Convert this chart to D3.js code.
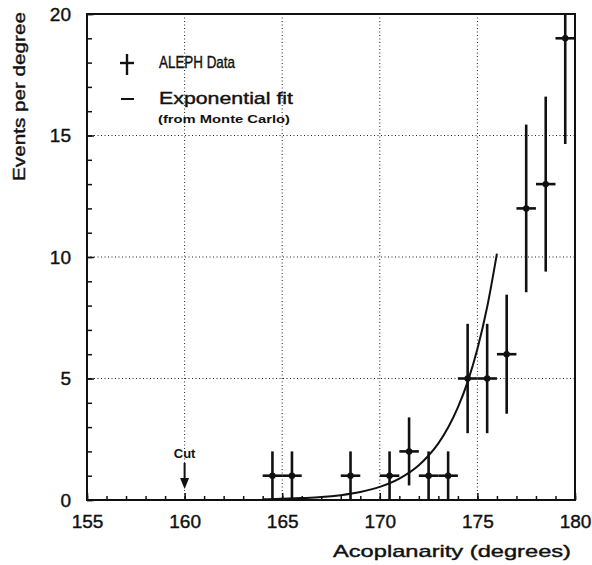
<!DOCTYPE html>
<html lang="en">
	<head>
		<meta charset="utf-8">
		<title>Acoplanarity</title>
		<script type="text/javascript" src="https://cdn.jsdelivr.net/npm/d3@7"></script>
		<style type="text/css">
			body { margin: 0; background: white; }
			text { font-family: "Liberation Sans", Arial, sans-serif; fill: #111; }
		</style>
	</head>
	<body>
	<script type="text/javascript">

			// data
			var binCenters = [164.5, 165.5, 168.5, 170.5, 171.5, 172.5, 173.5, 174.5, 175.5, 176.5, 177.5, 178.5, 179.5];
			var events = [1, 1, 1, 1, 2, 1, 1, 5, 5, 6, 12, 13, 19];
			var errors = [1, 1, 1, 1, 1.4, 1, 1, 2.25, 2.25, 2.45, 3.45, 3.6, 4.35];
			var binHalf = 0.5;

			// exponential fit curve (from Monte Carlo)
			var fitX = [164, 165, 166, 167, 168, 169, 170, 171, 172, 172.5, 173, 173.5, 174, 174.5, 175, 175.5, 176];
			var fitY = [0.03, 0.05, 0.08, 0.12, 0.2, 0.33, 0.54, 0.88, 1.43, 1.83, 2.33, 2.98, 3.81, 4.86, 6.21, 7.94, 10.14];

			var xTicks = [155, 160, 165, 170, 175, 180];
			var yTicks = [0, 5, 10, 15, 20];
			var xGrid = [160, 165, 170, 175];
			var yGrid = [5, 10, 15];
			var cutAt = 160;

			var w = 592, h = 565;
			// plot frame in pixels ("top" is taken by window.top, so use m*)
			var mLeft = 87, mRight = 575, mTop = 14, mBottom = 500;

			var svg = d3.select("body").append("svg").attr("width", w).attr("height", h);

			var x = d3.scaleLinear().domain([155, 180]).range([mLeft, mRight]);
			var y = d3.scaleLinear().domain([0, 20]).range([mBottom, mTop]);

			svg.append("clipPath").attr("id", "plot")
				.append("rect").attr("x", mLeft).attr("y", mTop).attr("width", mRight - mLeft).attr("height", mBottom - mTop);

			// dotted grid
			svg.selectAll(".gx").data(xGrid).enter().append("line")
				.attr("x1", d => x(d)).attr("x2", d => x(d))
				.attr("y1", mTop).attr("y2", mBottom)
				.attr("stroke", "#222").attr("stroke-width", 1).attr("stroke-dasharray", "1,2.5");
			svg.selectAll(".gy").data(yGrid).enter().append("line")
				.attr("x1", mLeft).attr("x2", mRight)
				.attr("y1", d => y(d)).attr("y2", d => y(d))
				.attr("stroke", "#222").attr("stroke-width", 1).attr("stroke-dasharray", "1,2.5");

			// minor ticks (inward)
			svg.append("g").attr("transform", "translate(0," + mBottom + ")")
				.call(d3.axisBottom(x).tickValues(d3.range(155, 181, 1)).tickSize(-4).tickFormat(""))
				.call(g => g.select(".domain").remove());
			svg.append("g").attr("transform", "translate(" + mLeft + ",0)")
				.call(d3.axisLeft(y).tickValues(d3.range(0, 21, 1)).tickSize(-5).tickFormat(""))
				.call(g => g.select(".domain").remove());

			// major ticks with labels
			var xAxis = svg.append("g").attr("transform", "translate(0," + mBottom + ")")
				.call(d3.axisBottom(x).tickValues(xTicks).tickSize(-7).tickPadding(15).tickFormat(d3.format("d")));
			xAxis.select(".domain").remove();
			xAxis.selectAll("text").attr("font-size", 19).attr("font-family", "Liberation Sans, Arial, sans-serif")
				.attr("fill", "#111").attr("stroke", "#111").attr("stroke-width", 0.4);

			var yAxis = svg.append("g").attr("transform", "translate(" + mLeft + ",0)")
				.call(d3.axisLeft(y).tickValues(yTicks).tickSize(-7).tickPadding(16).tickFormat(d3.format("d")));
			yAxis.select(".domain").remove();
			yAxis.selectAll("text").attr("font-size", 19).attr("font-family", "Liberation Sans, Arial, sans-serif")
				.attr("fill", "#111").attr("stroke", "#111").attr("stroke-width", 0.4);

			svg.selectAll(".tick line").attr("stroke", "#111").attr("stroke-width", 1.5);

			// frame
			svg.append("rect").attr("x", mLeft).attr("y", mTop).attr("width", mRight - mLeft).attr("height", mBottom - mTop)
				.attr("fill", "none").attr("stroke", "#111").attr("stroke-width", 2);

			// fit curve
			var fitData = fitX.map((v, i) => [v, fitY[i]]);
			svg.append("path")
				.datum(fitData)
				.attr("d", d3.line().x(d => x(d[0])).y(d => y(d[1])).curve(d3.curveMonotoneX))
				.attr("fill", "none").attr("stroke", "#111").attr("stroke-width", 2);

			// data points with error bars
			var pts = svg.append("g").attr("clip-path", "url(#plot)");
			binCenters.forEach(function (c, i) {
				var v = events[i], e = errors[i];
				pts.append("line")
					.attr("x1", x(c)).attr("x2", x(c))
					.attr("y1", y(v - e)).attr("y2", y(v + e))
					.attr("stroke", "#111").attr("stroke-width", 2.6);
				pts.append("line")
					.attr("x1", x(c - binHalf)).attr("x2", x(c + binHalf))
					.attr("y1", y(v)).attr("y2", y(v))
					.attr("stroke", "#111").attr("stroke-width", 2.6);
				pts.append("circle")
					.attr("cx", x(c)).attr("cy", y(v)).attr("r", 3.2).attr("fill", "#111");
			});

			// cut marker
			svg.append("text").attr("x", x(cutAt)).attr("y", 458).attr("text-anchor", "middle")
				.attr("font-size", 13).attr("font-weight", "bold").text("Cut");
			svg.append("line").attr("x1", x(cutAt)).attr("x2", x(cutAt)).attr("y1", 463).attr("y2", 485)
				.attr("stroke", "#111").attr("stroke-width", 2);
			svg.append("path")
				.attr("d", "M" + (x(cutAt) - 4.5) + ",478 L" + (x(cutAt) + 4.5) + ",478 L" + x(cutAt) + ",489 Z")
				.attr("fill", "#111");

			// legend
			svg.append("line").attr("x1", 127).attr("x2", 127).attr("y1", 54).attr("y2", 75)
				.attr("stroke", "#111").attr("stroke-width", 2.4);
			svg.append("line").attr("x1", 120).attr("x2", 134).attr("y1", 63).attr("y2", 63)
				.attr("stroke", "#111").attr("stroke-width", 2.4);
			svg.append("text").attr("x", 159).attr("y", 68).attr("font-size", 17)
				.attr("textLength", 76).attr("lengthAdjust", "spacingAndGlyphs")
				.attr("stroke", "#111").attr("stroke-width", 0.4).text("ALEPH Data");
			svg.append("line").attr("x1", 121).attr("x2", 134).attr("y1", 99).attr("y2", 99)
				.attr("stroke", "#111").attr("stroke-width", 2);
			svg.append("text").attr("x", 159).attr("y", 104).attr("font-size", 17)
				.attr("textLength", 134).attr("lengthAdjust", "spacingAndGlyphs")
				.attr("stroke", "#111").attr("stroke-width", 0.4).text("Exponential fit");
			svg.append("text").attr("x", 158).attr("y", 123).attr("font-size", 11.5).attr("font-weight", "bold")
				.attr("textLength", 132).attr("lengthAdjust", "spacingAndGlyphs")
				.text("(from Monte Carlo)");

			// axis titles
			svg.append("text").attr("x", 571).attr("y", 557).attr("text-anchor", "end").attr("font-size", 17)
				.attr("textLength", 238).attr("lengthAdjust", "spacingAndGlyphs")
				.attr("stroke", "#111").attr("stroke-width", 0.4).text("Acoplanarity (degrees)");
			svg.append("text").attr("transform", "translate(25,181) rotate(-90)").attr("font-size", 17)
				.attr("textLength", 169).attr("lengthAdjust", "spacingAndGlyphs")
				.attr("stroke", "#111").attr("stroke-width", 0.4).text("Events per degree");

		</script>
	</body>
</html>
